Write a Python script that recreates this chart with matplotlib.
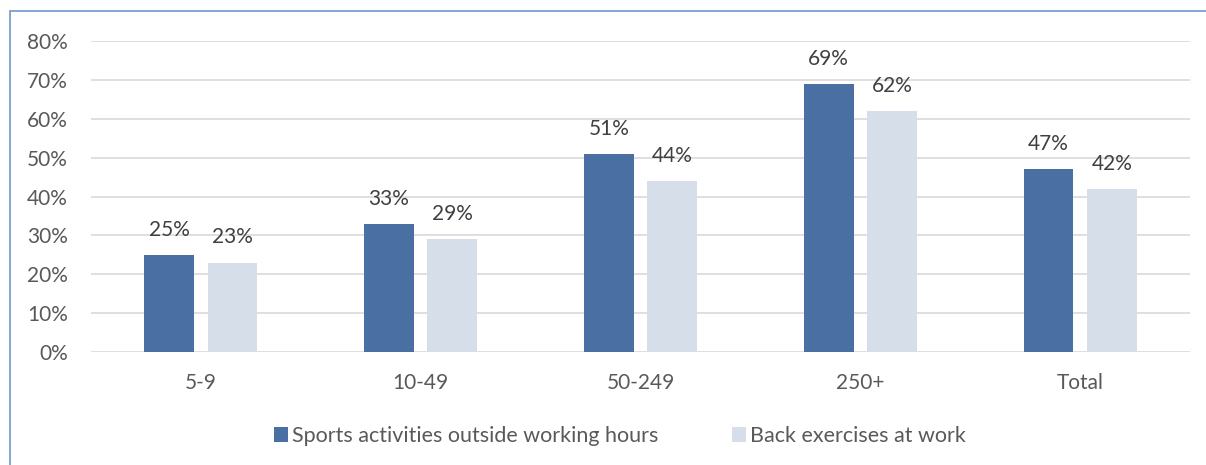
import matplotlib.pyplot as plt
from matplotlib.patches import Rectangle

# Data
categorias = ["5-9", "10-49", "50-249", "250+", "Total"]
esporte = [25, 33, 51, 69, 47]
costas = [23, 29, 44, 62, 42]
nome_esporte = "Sports activities outside working hours"
nome_costas = "Back exercises at work"

cor_escura = "#4A6FA3"
cor_clara = "#D5DEE9"
cor_texto = "#595959"

plt.rcParams['font.family'] = ['Lato', 'DejaVu Sans']

fig = plt.figure(figsize=(12.06, 4.65), dpi=100)
ax = fig.add_axes([91 / 1206, 1 - 352 / 465, (1190 - 91) / 1206, (352 - 41) / 465])

x = list(range(len(categorias)))
largura = 0.227
passo = 0.288
x1 = [i - passo / 2 for i in x]
x2 = [i + passo / 2 for i in x]
b1 = ax.bar(x1, esporte, largura, color=cor_escura, label=nome_esporte, zorder=3)
b2 = ax.bar(x2, costas, largura, color=cor_clara, label=nome_costas, zorder=3)

for barras, vals in ((b1, esporte), (b2, costas)):
    for b, v in zip(barras, vals):
        ax.text(b.get_x() + b.get_width() / 2, v + 3.9, f"{v}%", ha="center", va="bottom",
                fontsize=15, color="#404040")

ax.set_xlim(-0.5, len(categorias) - 0.5)
ax.set_ylim(0, 80)
ax.set_yticks(range(0, 81, 10))
ax.set_yticklabels([f"{v}%" for v in range(0, 81, 10)])
ax.set_xticks(x)
ax.set_xticklabels(categorias)
ax.tick_params(length=0, labelsize=15, labelcolor=cor_texto)
ax.tick_params(axis='y', pad=16.5)
ax.tick_params(axis='x', pad=15)
ax.grid(axis='y', color="#D9D9D9", linewidth=1.2, zorder=0)
for s in ax.spines.values():
    s.set_visible(False)

fig.legend(loc="center", bbox_to_anchor=(620 / 1206, 1 - 436 / 465), ncol=2, frameon=False,
           fontsize=15.5, labelcolor=cor_texto, handlelength=0.65, handleheight=0.65,
           handletextpad=0.2, columnspacing=3.4)

# moldura azul (cortada à direita e embaixo)
fig.patches.append(Rectangle((10 / 1206, -0.1), 1.2, 1 - 11 / 465 + 0.1, transform=fig.transFigure,
                             fill=False, edgecolor="#7097CC", linewidth=1.2))

plt.savefig("out.png", dpi=100)
